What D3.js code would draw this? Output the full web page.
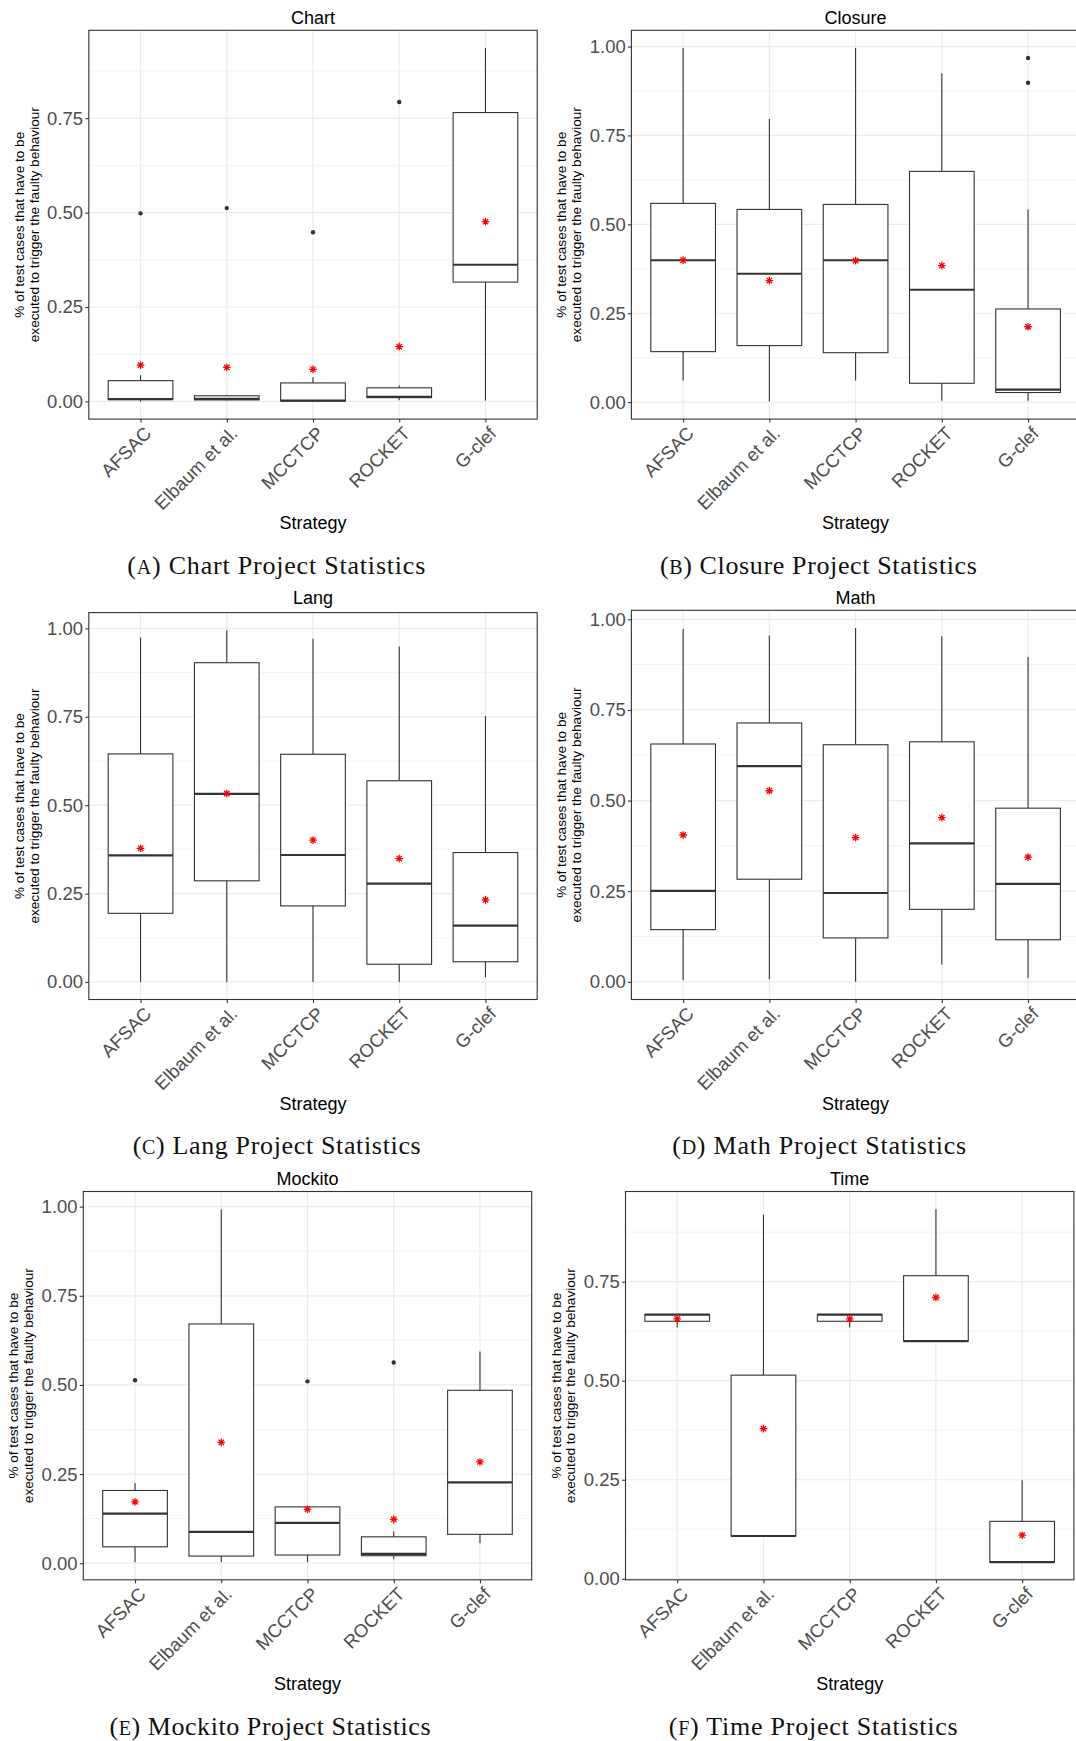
<!DOCTYPE html>
<html>
<head>
<meta charset="utf-8">
<script src="https://cdn.jsdelivr.net/npm/d3@7"></script>
<style>
  body { margin: 0; background: #fff; }
  svg { display: block; }
</style>
</head>
<body>
<svg id="fig" width="1076" height="1741"></svg>
<script>
// Strategies compared in every project
const categories = ["AFSAC", "Elbaum et al.", "MCCTCP", "ROCKET", "G-clef"];

// Y-axis tick values
const ticksTo075 = [0, 0.25, 0.5, 0.75];
const ticksTo100 = [0, 0.25, 0.5, 0.75, 1];

// Box-plot summaries per strategy: whisker ends, quartiles, median, mean, outliers
const chartStats = [
  { lo: 0.000, q1: 0.005, med: 0.006, q3: 0.055, hi: 0.069, mean: 0.096, out: [0.498] },
  { lo: 0.002, q1: 0.004, med: 0.007, q3: 0.015, hi: 0.018, mean: 0.090, out: [0.512] },
  { lo: 0.000, q1: 0.001, med: 0.002, q3: 0.049, hi: 0.064, mean: 0.085, out: [0.448] },
  { lo: 0.003, q1: 0.010, med: 0.012, q3: 0.036, hi: 0.042, mean: 0.145, out: [0.793] },
  { lo: 0.002, q1: 0.316, med: 0.362, q3: 0.765, hi: 0.936, mean: 0.476, out: [] }
];

const closureStats = [
  { lo: 0.061, q1: 0.142, med: 0.399, q3: 0.559, hi: 0.996, mean: 0.399, out: [] },
  { lo: 0.002, q1: 0.159, med: 0.361, q3: 0.542, hi: 0.796, mean: 0.342, out: [] },
  { lo: 0.061, q1: 0.139, med: 0.399, q3: 0.556, hi: 0.996, mean: 0.398, out: [] },
  { lo: 0.004, q1: 0.053, med: 0.316, q3: 0.649, hi: 0.925, mean: 0.384, out: [] },
  { lo: 0.004, q1: 0.027, med: 0.035, q3: 0.262, hi: 0.542, mean: 0.212, out: [0.968, 0.898] }
];

const langStats = [
  { lo: 0.000, q1: 0.194, med: 0.358, q3: 0.645, hi: 0.974, mean: 0.378, out: [] },
  { lo: 0.000, q1: 0.286, med: 0.532, q3: 0.903, hi: 0.995, mean: 0.533, out: [] },
  { lo: 0.000, q1: 0.215, med: 0.359, q3: 0.644, hi: 0.971, mean: 0.401, out: [] },
  { lo: 0.000, q1: 0.050, med: 0.278, q3: 0.569, hi: 0.949, mean: 0.349, out: [] },
  { lo: 0.013, q1: 0.057, med: 0.159, q3: 0.366, hi: 0.752, mean: 0.232, out: [] }
];

const mathStats = [
  { lo: 0.004, q1: 0.144, med: 0.251, q3: 0.656, hi: 0.973, mean: 0.405, out: [] },
  { lo: 0.007, q1: 0.283, med: 0.595, q3: 0.714, hi: 0.955, mean: 0.527, out: [] },
  { lo: 0.000, q1: 0.121, med: 0.245, q3: 0.654, hi: 0.976, mean: 0.398, out: [] },
  { lo: 0.048, q1: 0.200, med: 0.382, q3: 0.662, hi: 0.953, mean: 0.453, out: [] },
  { lo: 0.011, q1: 0.116, med: 0.270, q3: 0.479, hi: 0.896, mean: 0.344, out: [] }
];

const mockitoStats = [
  { lo: 0.003, q1: 0.046, med: 0.139, q3: 0.204, hi: 0.225, mean: 0.172, out: [0.513] },
  { lo: 0.003, q1: 0.020, med: 0.088, q3: 0.671, hi: 0.993, mean: 0.339, out: [] },
  { lo: 0.003, q1: 0.023, med: 0.113, q3: 0.158, hi: 0.158, mean: 0.151, out: [0.510] },
  { lo: 0.011, q1: 0.021, med: 0.026, q3: 0.074, hi: 0.089, mean: 0.123, out: [0.563] },
  { lo: 0.056, q1: 0.081, med: 0.227, q3: 0.485, hi: 0.594, mean: 0.284, out: [] }
];

const timeStats = [
  { lo: 0.634, q1: 0.650, med: 0.667, q3: 0.667, hi: 0.667, mean: 0.656, out: [] },
  { lo: 0.108, q1: 0.108, med: 0.108, q3: 0.514, hi: 0.919, mean: 0.379, out: [] },
  { lo: 0.634, q1: 0.650, med: 0.667, q3: 0.667, hi: 0.667, mean: 0.656, out: [] },
  { lo: 0.600, q1: 0.600, med: 0.600, q3: 0.765, hi: 0.933, mean: 0.710, out: [] },
  { lo: 0.042, q1: 0.042, med: 0.042, q3: 0.145, hi: 0.249, mean: 0.110, out: [] }
];

const yTitleLines = ["% of test cases that have to be", "executed to trigger the faulty behaviour"];
const xTitle = "Strategy";

// Sub-figure placement on the page
const PANEL_W = 448.4;
const panels = [
  { title: "Chart",   letter: "A", stats: chartStats,   ticks: ticksTo075, left: 88.8,  top: 30.3,   bottom: 419.1,  titleY: 24,     capX: 276.3, capY: 573.5, capW: 298 },
  { title: "Closure", letter: "B", stats: closureStats, ticks: ticksTo100, left: 631.4, top: 30.3,   bottom: 419.1,  titleY: 24,     capX: 818.4, capY: 573.5, capW: 317 },
  { title: "Lang",    letter: "C", stats: langStats,    ticks: ticksTo100, left: 88.8,  top: 612.6,  bottom: 999.5,  titleY: 604.4,  capX: 276.7, capY: 1153.5, capW: 288 },
  { title: "Math",    letter: "D", stats: mathStats,    ticks: ticksTo100, left: 631.4, top: 610.3,  bottom: 999.5,  titleY: 604.4,  capX: 819.2, capY: 1153.5, capW: 294 },
  { title: "Mockito", letter: "E", stats: mockitoStats, ticks: ticksTo100, left: 83.3,  top: 1191.5, bottom: 1579.8, titleY: 1184.5, capX: 270.0, capY: 1735,  capW: 321 },
  { title: "Time",    letter: "F", stats: timeStats,    ticks: ticksTo075, left: 625.5, top: 1191.5, bottom: 1579.8, titleY: 1184.5, capX: 813.2, capY: 1735,  capW: 289 }
];

const SANS = "'Liberation Sans', Arial, Helvetica, sans-serif";
const SERIF = "'Liberation Serif', 'Times New Roman', serif";
const INK = "#333333";
const GRID = "#EBEBEB";

const svg = d3.select("#fig");
svg.append("rect").attr("width", 1076).attr("height", 1741).attr("fill", "#fff");

const defs = svg.append("defs");

panels.forEach((p, i) => {
  const right = p.left + PANEL_W;

  const x = d3.scalePoint().domain(categories).range([p.left, right]).padding(0.6);
  const boxW = x.step() * 0.75;

  // y range: data extent padded by 5% on each side
  const vals = p.stats.flatMap(s => [s.lo, s.q1, s.med, s.q3, s.hi, s.mean, ...s.out]);
  const [vmin, vmax] = d3.extent(vals);
  const pad = (vmax - vmin) * 0.05;
  const y = d3.scaleLinear().domain([vmin - pad, vmax + pad]).range([p.bottom, p.top]);

  const clipId = "clip" + i;
  defs.append("clipPath").attr("id", clipId)
    .append("rect").attr("x", p.left).attr("y", p.top)
    .attr("width", PANEL_W).attr("height", p.bottom - p.top);

  const g = svg.append("g");
  const plot = g.append("g").attr("clip-path", `url(#${clipId})`);

  // minor grid
  const [d0, d1] = y.domain();
  const minor = d3.range(-0.125, d1, 0.25).filter(v => v > d0 && v < d1);
  plot.selectAll("line.minor").data(minor).join("line")
    .attr("x1", p.left).attr("x2", right)
    .attr("y1", d => y(d)).attr("y2", d => y(d))
    .attr("stroke", GRID).attr("stroke-width", 0.6);

  // major grid
  plot.selectAll("line.majorY").data(p.ticks).join("line")
    .attr("x1", p.left).attr("x2", right)
    .attr("y1", d => y(d)).attr("y2", d => y(d))
    .attr("stroke", GRID).attr("stroke-width", 1.2);
  plot.selectAll("line.majorX").data(categories).join("line")
    .attr("x1", d => x(d)).attr("x2", d => x(d))
    .attr("y1", p.top).attr("y2", p.bottom)
    .attr("stroke", GRID).attr("stroke-width", 1.2);

  // boxes
  const boxes = plot.selectAll("g.box").data(p.stats.map((s, k) => ({ ...s, cat: categories[k] })))
    .join("g").attr("class", "box");

  boxes.append("line")
    .attr("x1", d => x(d.cat)).attr("x2", d => x(d.cat))
    .attr("y1", d => y(d.hi)).attr("y2", d => y(d.q3))
    .attr("stroke", INK).attr("stroke-width", 1.1);
  boxes.append("line")
    .attr("x1", d => x(d.cat)).attr("x2", d => x(d.cat))
    .attr("y1", d => y(d.q1)).attr("y2", d => y(d.lo))
    .attr("stroke", INK).attr("stroke-width", 1.1);
  boxes.append("rect")
    .attr("x", d => x(d.cat) - boxW / 2).attr("width", boxW)
    .attr("y", d => y(d.q3)).attr("height", d => Math.max(0, y(d.q1) - y(d.q3)))
    .attr("fill", "#fff").attr("stroke", INK).attr("stroke-width", 1.1);
  boxes.append("line")
    .attr("x1", d => x(d.cat) - boxW / 2).attr("x2", d => x(d.cat) + boxW / 2)
    .attr("y1", d => y(d.med)).attr("y2", d => y(d.med))
    .attr("stroke", INK).attr("stroke-width", 2.2);

  // outliers
  boxes.selectAll("circle").data(d => d.out.map(v => ({ v, cat: d.cat }))).join("circle")
    .attr("cx", d => x(d.cat)).attr("cy", d => y(d.v)).attr("r", 2.2)
    .attr("fill", INK);

  // mean marker (asterisk)
  const r = 3.8, rd = r * Math.SQRT1_2;
  boxes.append("path")
    .attr("transform", d => `translate(${x(d.cat)},${y(d.mean)})`)
    .attr("d", `M${-r},0H${r}M0,${-r}V${r}M${-rd},${-rd}L${rd},${rd}M${-rd},${rd}L${rd},${-rd}`)
    .attr("stroke", "#FF0000").attr("stroke-width", 1.3).attr("fill", "none");

  // y axis
  const yAxis = g.append("g").attr("transform", `translate(${p.left},0)`)
    .call(d3.axisLeft(y).tickValues(p.ticks).tickFormat(d3.format(".2f")).tickSize(3.5).tickPadding(2.2));
  yAxis.select(".domain").remove();
  yAxis.selectAll(".tick line").attr("stroke", INK).attr("stroke-width", 1.1);
  yAxis.selectAll(".tick text")
    .attr("font-family", SANS).attr("font-size", 18.5).attr("fill", "#4D4D4D");

  // x axis
  const xAxis = g.append("g").attr("transform", `translate(0,${p.bottom})`)
    .call(d3.axisBottom(x).tickSize(3.5));
  xAxis.select(".domain").remove();
  xAxis.selectAll(".tick line").attr("stroke", INK).attr("stroke-width", 1.1);
  xAxis.selectAll(".tick text")
    .attr("font-family", SANS).attr("font-size", 18.5).attr("fill", "#4D4D4D")
    .attr("text-anchor", "end")
    .attr("x", 0).attr("y", 0).attr("dy", "0.72em")
    .attr("transform", "translate(2,6) rotate(-45)");

  // panel border
  g.append("rect").attr("x", p.left).attr("y", p.top)
    .attr("width", PANEL_W).attr("height", p.bottom - p.top)
    .attr("fill", "none").attr("stroke", INK).attr("stroke-width", 1.1);

  // panel title
  g.append("text").attr("x", p.left + PANEL_W / 2).attr("y", p.titleY)
    .attr("text-anchor", "middle").attr("font-family", SANS).attr("font-size", 18)
    .attr("fill", "#000").text(p.title);

  // x title
  g.append("text").attr("x", p.left + PANEL_W / 2).attr("y", p.bottom + 110)
    .attr("text-anchor", "middle").attr("font-family", SANS).attr("font-size", 18)
    .attr("fill", "#000").text(xTitle);

  // y title (two lines)
  const yt = g.append("text")
    .attr("transform", `translate(${p.left - 65},${(p.top + p.bottom) / 2}) rotate(-90)`)
    .attr("text-anchor", "middle").attr("font-family", SANS).attr("font-size", 13.6)
    .attr("fill", "#000");
  yTitleLines.forEach((line, k) => {
    yt.append("tspan").attr("x", 0).attr("y", k * 14.8).text(line);
  });

  // sub-figure caption
  const cap = g.append("text").attr("x", p.capX).attr("y", p.capY)
    .attr("text-anchor", "middle").attr("font-family", SERIF).attr("font-size", 26)
    .attr("fill", "#111")
    .attr("textLength", p.capW).attr("lengthAdjust", "spacing");
  cap.append("tspan").text("(");
  cap.append("tspan").attr("font-size", 20).text(p.letter);
  cap.append("tspan").text(`) ${p.title} Project Statistics`);
});
</script>
</body>
</html>
